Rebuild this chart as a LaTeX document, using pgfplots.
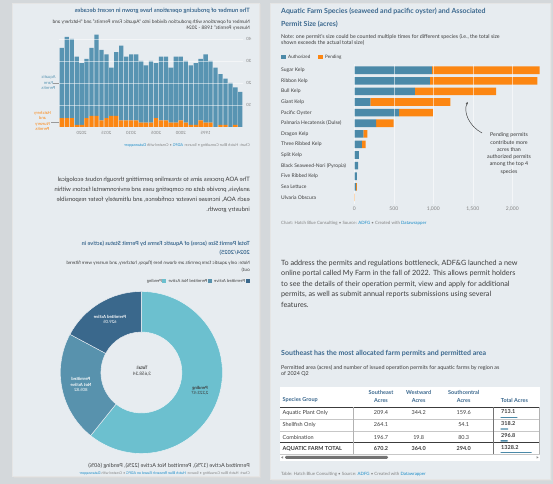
\documentclass[border=0pt]{standalone}
\usepackage{fontspec}
\setmainfont{Lato}
\usepackage{graphicx}
\usepackage{pgfplots}
\usepackage{pgfplotstable}
\pgfplotsset{compat=1.18}
\usetikzlibrary{arrows.meta}

\definecolor{pagebg}{RGB}{212,216,219}
\definecolor{panel}{RGB}{231,236,240}
\definecolor{tblue}{RGB}{59,104,142}
\definecolor{auth}{RGB}{75,137,168}
\definecolor{pend}{RGB}{252,134,18}
\definecolor{lblue}{RGB}{88,148,178}
\definecolor{txt}{RGB}{60,60,60}
\definecolor{gtxt}{RGB}{130,130,130}
\definecolor{link}{RGB}{26,140,200}
\definecolor{cPen}{RGB}{108,192,207}
\definecolor{cNot}{RGB}{88,146,173}
\definecolor{cAct}{RGB}{58,104,140}

\newcommand{\fs}[2]{\fontsize{#1bp}{#2bp}\selectfont}
\newcommand{\Lt}[5]{\node[anchor=west,inner sep=0pt,text=#4,font=#3] at (#1,484-#2) {#5};}
\newcommand{\Rt}[5]{\node[anchor=east,inner sep=0pt,text=#4,font=#3] at (#1,484-#2) {\reflectbox{#5}};}

% Aquatic farm species: authorized / pending acres
\pgfplotstableread{
idx auth pend
0 983 1364
1 958 1359
2 768 1026
3 203 1012
4 566 430
5 275 223
6 114 51
7 97 47
8 59 0
9 47 0
10 34 0
11 24 8
12 0 6
}\maindata

% producing operations per year (hatchery/nursery, aquatic farm)
\pgfplotstableread{
year hat aqu
2024 4 32
2023 4 37
2022 4 36
2021 1 31
2020 1 28
2019 4 27
2018 5 31
2017 5 37
2016 3 32
2015 4 29
2014 5 22
2013 5 29
2012 3 34
2011 3 29
2010 3 30
2009 3 30
2008 2 28
2007 2 26
2006 2 28
2005 4 25
2004 3 29
2003 3 29
2002 2 25
2001 2 30
2000 3 29
1999 2 28
1998 1 27
1997 1 28
1996 3 28
1995 2 31
1994 2 28
1993 0 27
1992 1 23
1991 1 21
1990 0 20
1989 1 17
1988 0 16
}\leftdata

% total acres by species group (table column)
\pgfplotstableread{
row total
0 713.1
1 318.2
2 296.8
3 1328.2
}\tabletotals

% permit status (acres)
\def\vPen{2223.47}
\def\vNot{805.82}
\def\vAct{629.05}

\begin{document}
\begin{tikzpicture}[x=1bp,y=1bp]
\useasboundingbox (0,0) rectangle (553,484);
\fill[pagebg] (0,0) rectangle (553,484);
\fill[black!14] (13.5,484-478.5) rectangle (260.5,484-4.5);
\fill[black!14] (271.5,484-481.5) rectangle (551.5,484-4.5);
\fill[panel, draw=black!10, line width=0.4bp] (12,484-476) rectangle (259,484-3);
\fill[panel, draw=black!10, line width=0.4bp] (270,484-479) rectangle (550,484-3);

%================ RIGHT PANEL =================
\Lt{281}{11.7}{\bfseries\fs{7}{8}}{tblue}{Aquatic Farm Species (seaweed and pacific oyster) and Associated}
\Lt{281}{24}{\bfseries\fs{7}{8}}{tblue}{Permit Size (acres)}
\Lt{281}{36.7}{\fs{5.3}{6}}{txt}{Note: one permit’s size could be counted multiple times for different species (i.e., the total size}
\Lt{281}{43.3}{\fs{5.3}{6}}{txt}{shown exceeds the actual total size)}
\fill[auth] (281,484-59) rectangle (286,484-55);
\Lt{288}{57}{\fs{4.6}{5}}{txt}{Authorized}
\fill[pend] (318.3,484-59) rectangle (323.3,484-55);
\Lt{325}{57}{\fs{4.6}{5}}{txt}{Pending}

\begin{axis}[
  at={(354.3bp,420.1bp)}, anchor=north west, scale only axis,
  width=189.6bp, height=139.9bp,
  xbar stacked, bar width=7.6bp,
  xmin=0, xmax=2400, ymin=-0.6, ymax=12.6, y dir=reverse,
  ytick={0,...,12},
  yticklabels={Sugar Kelp,Ribbon Kelp,Bull Kelp,Giant Kelp,Pacific Oyster,Palmaria Hecatensis (Dulse),Dragon Kelp,Three Ribbed Kelp,Split Kelp,Black Seaweed-Nori (Pyropia),Five Ribbed Kelp,Sea Lettuce,Ulvaria Obscura},
  xtick={0,500,1000,1500,2000},
  axis line style={draw=none}, major tick style={draw=none},
  xmajorgrids, major grid style={white, line width=0.5bp, opacity=0.55},
  axis on top,
  yticklabel style={anchor=west, inner sep=0pt, xshift=-73.3bp, font=\fs{5}{6}, text=txt},
  xticklabel style={font=\fs{5}{6}, text=gtxt, inner sep=0pt, yshift=-2.5bp},
  /pgf/number format/.cd, 1000 sep={,}, assume math mode=true,
]
\addplot[fill=auth, draw=none] table[x=auth, y=idx]{\maindata};
\addplot[fill=pend, draw=none] table[x=pend, y=idx]{\maindata};
\end{axis}

\node[align=center, font=\fs{5.3}{7.3}, text=txt, inner sep=0] at (509,484-153.5) {Pending permits\\contribute more\\acres than\\authorized permits\\among the top 4\\species};
\draw[txt, line width=0.45bp, -{Stealth[length=2.4bp,width=2.2bp]}] (482,484-133) .. controls (469,484-126) and (463,484-112) .. (467.6,484-102);

\Lt{281}{223}{\fs{4.4}{5}}{gtxt}{Chart: Hatch Blue Consulting • Source: \textcolor{link}{ADFG} • Created with \textcolor{link}{Datawrapper}}

\Lt{281}{263.7}{\fs{7.2}{8}}{txt}{To address the permits and regulations bottleneck, ADF\&G launched a new}
\Lt{281}{273.9}{\fs{7.2}{8}}{txt}{online portal called My Farm in the fall of 2022. This allows permit holders}
\Lt{281}{284.1}{\fs{7.2}{8}}{txt}{to see the details of their operation permit, view and apply for additional}
\Lt{281}{294.3}{\fs{7.2}{8}}{txt}{permits, as well as submit annual reports submissions using several}
\Lt{281}{304.5}{\fs{7.2}{8}}{txt}{features.}

\Lt{281}{353.3}{\bfseries\fs{7}{8}}{tblue}{Southeast has the most allocated farm permits and permitted area}
\Lt{281}{368}{\fs{5.4}{6}}{txt}{Permitted area (acres) and number of issued operation permits for aquatic farms by region as}
\Lt{281}{373.8}{\fs{5.4}{6}}{txt}{of 2024 Q2}

\fill[white] (280,484-461) rectangle (539.5,484-386.7);
\Lt{282.5}{400.3}{\bfseries\fs{5.5}{6}}{tblue}{Species Group}
\node[font=\bfseries\fs{5.5}{7.3}, text=tblue, align=center, inner sep=0] at (381,484-396.4) {Southeast\\Acres};
\node[font=\bfseries\fs{5.5}{7.3}, text=tblue, align=center, inner sep=0] at (418.7,484-396.4) {Westward\\Acres};
\node[font=\bfseries\fs{5.5}{7.3}, text=tblue, align=center, inner sep=0] at (463.7,484-396.4) {Southcentral\\Acres};
\Lt{500.7}{400.3}{\bfseries\fs{5.5}{6}}{tblue}{Total Acres}

\Lt{282.5}{412.6}{\fs{5.5}{6}}{txt}{Aquatic Plant Only}
\Lt{282.5}{424.9}{\fs{5.5}{6}}{txt}{Shellfish Only}
\Lt{282.5}{437.2}{\fs{5.5}{6}}{txt}{Combination}
\Lt{282.5}{448.6}{\bfseries\fs{5.5}{6}}{txt}{AQUATIC FARM TOTAL}
\foreach \yy/\a/\b/\c in {412.6/209.4/344.2/159.6, 424.9/264.1//54.1, 437.2/196.7/19.8/80.3}{
  \node[font=\fs{5.5}{6}, text=txt, inner sep=0] at (381,484-\yy) {\a};
  \node[font=\fs{5.5}{6}, text=txt, inner sep=0] at (418.7,484-\yy) {\b};
  \node[font=\fs{5.5}{6}, text=txt, inner sep=0] at (463.7,484-\yy) {\c};
}
\node[font=\bfseries\fs{5.5}{6}, text=txt, inner sep=0] at (381,484-448.6) {670.2};
\node[font=\bfseries\fs{5.5}{6}, text=txt, inner sep=0] at (418.7,484-448.6) {364.0};
\node[font=\bfseries\fs{5.5}{6}, text=txt, inner sep=0] at (463.7,484-448.6) {294.0};
\Lt{501}{411.4}{\bfseries\fs{5.5}{6}}{txt}{713.1}
\Lt{501}{423.6}{\bfseries\fs{5.5}{6}}{txt}{318.2}
\Lt{501}{435.6}{\bfseries\fs{5.5}{6}}{txt}{296.8}
\Lt{501}{447.4}{\bfseries\fs{5.5}{6}}{txt}{1328.2}

\draw[txt, line width=0.8bp] (280,484-407.2) -- (539.5,484-407.2);
\draw[black!22, line width=0.4bp] (280,484-418.9) -- (539.5,484-418.9);
\draw[black!22, line width=0.4bp] (280,484-431) -- (539.5,484-431);
\draw[txt, line width=0.8bp] (280,484-442.7) -- (539.5,484-442.7);
\draw[black!22, line width=0.4bp] (280,484-454) -- (539.5,484-454);
\draw[black!30, line width=0.4bp] (353.3,484-407.2) -- (353.3,484-454);
\draw[black!55, line width=0.5bp] (493.3,484-407.2) -- (493.3,484-454);
\draw[black!30, line width=0.4bp] (539.5,484-407.2) -- (539.5,484-454);

\begin{axis}[
  at={(500.7bp,66.7bp)}, anchor=north west, scale only axis,
  width=31bp, height=35.4bp, hide axis,
  xbar, bar width=1.3bp, xmin=0, xmax=1328.2, ymin=0, ymax=3, y dir=reverse,
]
\addplot[fill=auth, draw=none] table[x=total, y=row]{\tabletotals};
\end{axis}

\fill[black!55, rounded corners=1.2bp] (285,484-458.8) rectangle (388,484-456);
\fill[black!45] (281,484-457.4) -- (283,484-456.2) -- (283,484-458.6) -- cycle;
\fill[black!45] (538.5,484-457.4) -- (536.5,484-456.2) -- (536.5,484-458.6) -- cycle;
\Lt{281}{474.3}{\fs{4.4}{5}}{gtxt}{Table: Hatch Blue Consulting • Source: \textcolor{link}{ADFG} • Created with \textcolor{link}{Datawrapper}}

%================ LEFT PANEL (mirrored) =================
\Rt{250}{11}{\bfseries\fs{5.9}{7}}{tblue}{The number of producing operations have grown in recent decades}
\Rt{250}{22.3}{\fs{4.8}{5.5}}{txt}{Number of operations with production divided into “Aquatic Farm Permits” and “Hatchery and}
\Rt{250}{28}{\fs{4.8}{5.5}}{txt}{Nursery Permits” 1988 - 2024}

\begin{axis}[
  at={(59.3bp,357bp)}, anchor=south west, scale only axis,
  width=183.5bp, height=94.6bp,
  ybar stacked, bar width=4.3bp,
  xmin=-2024.5, xmax=-1987.5, ymin=0, ymax=43,
  xtick={-2020,-2015,-2010,-2005,-2000,-1995},
  xticklabels={\reflectbox{2020},\reflectbox{2015},\reflectbox{2010},\reflectbox{2005},\reflectbox{2000},\reflectbox{1995}},
  ytick={10,20,30,40}, yticklabel pos=right,
  yticklabels={\reflectbox{10},\reflectbox{20},\reflectbox{30},\reflectbox{40}},
  axis line style={draw=none}, major tick style={draw=none},
  ymajorgrids, major grid style={white, opacity=0.5, line width=0.4bp},
  axis on top,
  xticklabel style={font=\fs{4.3}{5}, text=gtxt, inner sep=0pt, yshift=-3.7bp},
  yticklabel style={font=\fs{4.3}{5}, text=gtxt, inner sep=0pt, xshift=3.5bp},
]
\addplot[fill=pend, draw=none] table[x expr=-\thisrow{year}, y=hat]{\leftdata};
\addplot[fill=lblue, draw=none] table[x expr=-\thisrow{year}, y=aqu]{\leftdata};
\draw[black!45, line width=0.4bp] (rel axis cs:0,0) -- (rel axis cs:1,0);
\end{axis}

\node[font=\fs{4.2}{5.4}, text=lblue, inner sep=0] at (48.5,484-83.3) {\reflectbox{\begin{tabular}{@{}c@{}}Aquatic\\Farm\\Permits\end{tabular}}};
\draw[black!40, line width=0.4bp] (53,484-83) -- (58.5,484-83);
\node[font=\fs{4.2}{5.4}, text=pend, inner sep=0] at (42.5,484-121.5) {\reflectbox{\begin{tabular}{@{}c@{}}Hatchery\\and\\Nursery\\Permits\end{tabular}}};
\draw[black!40, line width=0.4bp] (51,484-122) -- (58.5,484-122);

\Rt{250}{145}{\fs{3.8}{4.5}}{gtxt}{Chart: Hatch Blue Consulting • Source: \textcolor{link}{ADFG} • Created with \textcolor{link}{Datawrapper}}

\Rt{250}{180}{\fs{6}{8}}{txt}{The AOA process aims to streamline permitting through robust ecological}
\Rt{250}{190}{\fs{6}{8}}{txt}{analysis, provide data on competing uses and environmental factors within}
\Rt{250}{200}{\fs{6}{8}}{txt}{each AOA, increase investor confidence, and ultimately foster responsible}
\Rt{250}{209.8}{\fs{6}{8}}{txt}{industry growth.}

\Rt{250}{243.3}{\bfseries\fs{5.6}{7}}{tblue}{Total Permit Size (acres) of Aquatic Farms by Permit Status (active in}
\Rt{250}{252.7}{\bfseries\fs{5.6}{7}}{tblue}{2024/2025)}
\Rt{250}{263.3}{\fs{4.6}{5.5}}{txt}{Note: only aquatic farm permits are shown here (flupsy, hatchery, and nursery were filtered}
\Rt{250}{270}{\fs{4.6}{5.5}}{txt}{out)}
\Rt{250}{281}{\fs{4.2}{5}}{txt}{\textcolor{cAct}{\rule{4bp}{4bp}}\,Permitted Active\enspace\textcolor{cNot}{\rule{4bp}{4bp}}\,Permitted Not Active\enspace\textcolor{cPen}{\rule{4bp}{4bp}}\,Pending}

\pgfmathsetmacro\tot{\vPen+\vNot+\vAct}
\pgfmathsetmacro\aA{90-360*(\vPen/\tot)}
\pgfmathsetmacro\aB{\aA-360*(\vNot/\tot)}
\begin{axis}[
  at={(141.4bp,111.5bp)}, anchor=center, scale only axis,
  width=162bp, height=162bp, hide axis,
  xmin=-1, xmax=1, ymin=-1, ymax=1,
]
\fill[cPen, draw=white!50!panel, line width=0.4bp] (axis cs:0,1) arc[start angle=90, end angle=\aA, radius=81bp] -- (axis cs:{0.5*cos(\aA)},{0.5*sin(\aA)}) arc[start angle=\aA, end angle=90, radius=40.5bp] -- cycle;
\fill[cNot, draw=white!50!panel, line width=0.4bp] (axis cs:{cos(\aA)},{sin(\aA)}) arc[start angle=\aA, end angle=\aB, radius=81bp] -- (axis cs:{0.5*cos(\aB)},{0.5*sin(\aB)}) arc[start angle=\aB, end angle=\aA, radius=40.5bp] -- cycle;
\fill[cAct, draw=white!50!panel, line width=0.4bp] (axis cs:{cos(\aB)},{sin(\aB)}) arc[start angle=\aB, end angle=-270, radius=81bp] -- (axis cs:0,0.5) arc[start angle=-270, end angle=\aB, radius=40.5bp] -- cycle;
\end{axis}

\node[font=\bfseries\fs{4.3}{5.4}, text=white, inner sep=0] at (110,484-320) {\reflectbox{\begin{tabular}{@{}c@{}}Permitted Active\\\mdseries 629.05\end{tabular}}};
\node[font=\bfseries\fs{4.6}{5.8}, text=txt, inner sep=0] at (142,484-371.7) {\reflectbox{\begin{tabular}{@{}c@{}}Total:\\\mdseries 3,658.34\end{tabular}}};
\node[font=\bfseries\fs{4.3}{5.4}, text=white, inner sep=0] at (81,484-385) {\reflectbox{\begin{tabular}{@{}c@{}}Permitted\\Not Active\\\mdseries 805.82\end{tabular}}};
\node[font=\bfseries\fs{4.3}{5.4}, text=txt, inner sep=0] at (200,484-391) {\reflectbox{\begin{tabular}{@{}c@{}}Pending\\\mdseries 2,223.47\end{tabular}}};

\Rt{250}{465.7}{\fs{5.5}{6}}{txt}{Permitted Active (17\%), Permitted Not Active (22\%), Pending (60\%)}
\Rt{250}{473.3}{\fs{3.65}{4.5}}{gtxt}{Chart: Hatch Blue Consulting • Source: \textcolor{link}{Hatch Blue Research Based on ADFG} • Created with \textcolor{link}{Datawrapper}}
\end{tikzpicture}
\end{document}
